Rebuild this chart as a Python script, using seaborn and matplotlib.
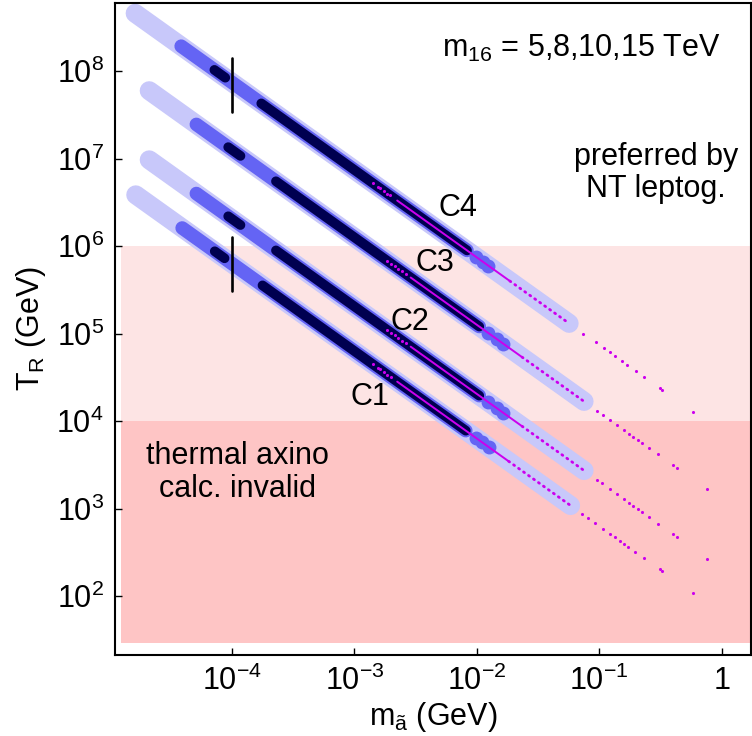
import numpy as np
import pandas as pd
import matplotlib
matplotlib.use("Agg")
import matplotlib.pyplot as plt
import seaborn as sns

sns.set_theme(style="white")
plt.rcParams['font.family'] = ['Liberation Sans', 'DejaVu Sans']
plt.rcParams['mathtext.fontset'] = 'custom'
plt.rcParams['mathtext.rm'] = 'Liberation Sans'
plt.rcParams['mathtext.it'] = 'Liberation Sans'
plt.rcParams['mathtext.sf'] = 'Liberation Sans'
plt.rcParams['mathtext.default'] = 'regular'
plt.rcParams['text.color'] = 'black'
plt.rcParams['axes.labelcolor'] = 'black'
plt.rcParams['xtick.color'] = 'black'
plt.rcParams['ytick.color'] = 'black'

# ---------------- data ----------------
curves = ["C1", "C2", "C3", "C4"]
# log10(T_R * m_axino) along each curve
log_TR_times_m = [1.80, 2.31, 3.10, 3.87]
# ranges in log10(m_axino / GeV)
light_start = [-4.785, -4.675, -4.675, -4.79]
light_end = [-1.234, -1.124, -1.124, -1.246]
medium_start = [-4.406, -4.29, -4.29, -4.414]
dark_blob = [(-4.14, -4.06), (-4.03, -3.93), (-4.03, -3.93), (-4.143, -4.054)]
dark_main = [(-3.75, -2.09), (-3.64, -1.98), (-3.64, -1.98), (-3.76, -2.08)]
medium_circles = [[-2.01, -1.96, -1.90], [-1.905, -1.837, -1.783],
                  [-1.905, -1.837, -1.783], [-2.01, -1.95, -1.905]]
magenta_sparse = [[-2.85, -2.81, -2.79, -2.76, -2.73, -2.70],
                  [-2.73, -2.70, -2.67, -2.64, -2.61, -2.58],
                  [-2.73, -2.70, -2.67, -2.64, -2.61, -2.58],
                  [-2.845, -2.81, -2.79, -2.757, -2.73, -2.708]]
magenta_solid = [(-2.65, -1.74), (-2.54, -1.63), (-2.54, -1.63), (-2.65, -1.73)]
magenta_far = [
    [-1.143, -1.089, -1.034, -0.967, -0.912, -0.871, -0.830, -0.798, -0.762,
     -0.708, -0.632, -0.504, -0.485, -0.232],
    [-1.020, -0.980, -0.912, -0.857, -0.798, -0.754, -0.722, -0.681, -0.653,
     -0.591, -0.518, -0.395, -0.367, -0.118],
    [-1.020, -0.967, -0.912, -0.857, -0.798, -0.754, -0.722, -0.681, -0.653,
     -0.591, -0.518, -0.395, -0.367, -0.118],
    [-1.130, -1.030, -0.961, -0.916, -0.871, -0.816, -0.775, -0.702, -0.634,
     -0.504, -0.485, -0.232],
]
label_pos = [(0.401, 0.395), (0.463, 0.510), (0.503, 0.601), (0.539, 0.685)]

# vertical markers at m = 1e-4 GeV
marker_x = 1e-4
marker_ranges = [(10**5.486, 10**6.103), (10**7.531, 10**8.149)]

# shaded regions (T_R in GeV)
region_x = [1.25e-5, 3.0]
nt_lepto_band = (1e4, 1e6)
invalid_band = (29.0, 1e4)

x_ticks = [1e-4, 1e-3, 1e-2, 1e-1, 1]
x_ticklabels = [r'$10^{-4}$', r'$10^{-3}$', r'$10^{-2}$', r'$10^{-1}$', '1']
y_ticks = [1e2, 1e3, 1e4, 1e5, 1e6, 1e7, 1e8]
y_ticklabels = [r'$10^{%d}$' % p for p in range(2, 9)]

# ---------------- styles ----------------
C_LIGHT = "#c8c8fa"
C_MED = "#6464f4"
C_DARK = "#000050"
C_MAG = "#cc00ee"
C_PINK1 = "#fde4e4"
C_PINK2 = "#fec5c5"
FS = 22

fig = plt.figure(figsize=(7.52, 7.36), dpi=100)
ax = fig.add_axes([0.1529, 0.1101, 0.8464, 0.8865])
ax.set_xscale('log')
ax.set_yscale('log')
ax.set_xlim(1.11e-5, 1.75)
ax.set_ylim(21.2, 6.07e8)

ax.fill_between(region_x, nt_lepto_band[0], nt_lepto_band[1], color=C_PINK1, lw=0, zorder=0)
ax.fill_between(region_x, invalid_band[0], invalid_band[1], color=C_PINK2, lw=0, zorder=0)


def seg(lx0, lx1, k, **kw):
    df = pd.DataFrame({"m": [10**lx0, 10**lx1], "T": [10**(k - lx0), 10**(k - lx1)]})
    sns.lineplot(data=df, x="m", y="T", ax=ax, estimator=None, sort=False,
                 legend=False, **kw)


def dots(lxs, k, **kw):
    lxs = np.asarray(lxs)
    df = pd.DataFrame({"m": 10**lxs, "T": 10**(k - lxs)})
    sns.scatterplot(data=df, x="m", y="T", ax=ax, legend=False, linewidth=0, **kw)


for i, name in enumerate(curves):
    k = log_TR_times_m[i]
    seg(light_start[i], light_end[i], k, color=C_LIGHT, linewidth=13.7,
        solid_capstyle='round', zorder=2)
    seg(medium_start[i], dark_main[i][1], k, color=C_MED, linewidth=9.8,
        solid_capstyle='round', zorder=3)
    dots(medium_circles[i], k, color=C_MED, s=100, zorder=3)
    seg(dark_blob[i][0], dark_blob[i][1], k, color=C_DARK, linewidth=7.0,
        solid_capstyle='round', zorder=4)
    seg(dark_main[i][0], dark_main[i][1], k, color=C_DARK, linewidth=7.0,
        solid_capstyle='round', zorder=4)
    dots(magenta_sparse[i], k, color=C_MAG, s=5, zorder=5)
    seg(magenta_solid[i][0], magenta_solid[i][1], k, color=C_MAG, linewidth=1.4,
        zorder=5)
    seg(magenta_solid[i][1], light_end[i], k, color=C_MAG, linewidth=2.0,
        linestyle=(0, (0.4, 1.8)), dash_capstyle='round', zorder=5)
    dots(magenta_far[i], k, color=C_MAG, s=5, zorder=5)
    ax.text(label_pos[i][0], label_pos[i][1], name, transform=ax.transAxes,
            fontsize=FS, ha='center', va='center', zorder=6)

for (y0, y1) in marker_ranges:
    ax.plot([marker_x, marker_x], [y0, y1], color='black', lw=1.9, zorder=6)

ax.text(0.732, 0.930, r'm$_{16}$ = 5,8,10,15 TeV', transform=ax.transAxes,
        fontsize=FS, ha='center', va='center')
ax.text(0.850, 0.739, 'preferred by\nNT leptog.', transform=ax.transAxes,
        fontsize=FS, ha='center', va='center', linespacing=1.1)
ax.text(0.192, 0.280, 'thermal axino\ncalc. invalid', transform=ax.transAxes,
        fontsize=FS, ha='center', va='center', linespacing=1.15)

ax.set_xticks(x_ticks)
ax.set_xticklabels(x_ticklabels)
ax.set_yticks(y_ticks)
ax.set_yticklabels(y_ticklabels)
ax.minorticks_off()
ax.tick_params(axis='both', which='major', direction='in', length=5, width=1,
               labelsize=FS, pad=8, colors='black', bottom=True, left=True)
ax.set_xlabel(r'm$_{\mathrm{ã}}$ (GeV)', fontsize=FS, labelpad=2, color='black')
ax.set_ylabel(r'T$_{\mathrm{R}}$ (GeV)', fontsize=FS, labelpad=6, color='black')
for sp in ax.spines.values():
    sp.set_color('black')
    sp.set_linewidth(1.5)
ax.grid(False)

fig.savefig("out.png", dpi=100)
